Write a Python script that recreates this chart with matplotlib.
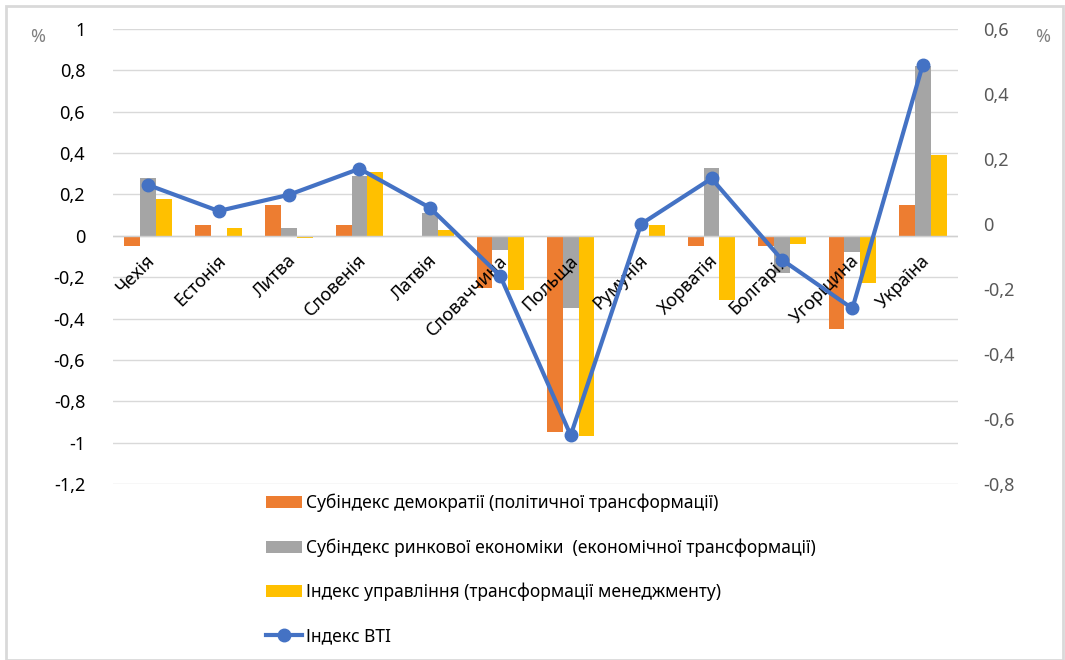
import matplotlib
matplotlib.use("Agg")
import matplotlib.pyplot as plt
import numpy as np
from matplotlib.patches import Rectangle

# країни та значення субіндексів (зміни, %)
countries = ["Чехія", "Естонія", "Литва", "Словенія", "Латвія", "Словаччина",
             "Польща", "Румунія", "Хорватія", "Болгарія", "Угорщина", "Україна"]
democracy = [-0.05, 0.05, 0.15, 0.05, 0.0, -0.25, -0.95, 0.0, -0.05, -0.05, -0.45, 0.15]
economy = [0.28, 0.0, 0.04, 0.29, 0.11, -0.07, -0.35, 0.0, 0.33, -0.18, -0.08, 0.82]
governance = [0.18, 0.04, -0.01, 0.31, 0.03, -0.26, -0.97, 0.05, -0.31, -0.04, -0.23, 0.39]
bti = [0.12, 0.04, 0.09, 0.17, 0.05, -0.16, -0.65, 0.0, 0.14, -0.11, -0.26, 0.49]

left_ticks = [1, 0.8, 0.6, 0.4, 0.2, 0, -0.2, -0.4, -0.6, -0.8, -1, -1.2]
right_ticks = [0.6, 0.4, 0.2, 0, -0.2, -0.4, -0.6, -0.8]

names = ["Субіндекс демократії (політичної трансформації)",
         "Субіндекс ринкової економіки  (економічної трансформації)",
         "Індекс управління (трансформації менеджменту)",
         "Індекс BTI"]

plt.rcParams['font.family'] = ['Noto Sans', 'DejaVu Sans']

fig = plt.figure(figsize=(10.65, 6.6), dpi=100)
ax = fig.add_axes([113 / 1065, 1 - 484 / 660, 845 / 1065, 455 / 660])
ax2 = ax.twinx()

x = np.arange(len(countries))
w = 0.225
b1 = ax.bar(x - w, democracy, w, color="#ED7D31", label=names[0])
b2 = ax.bar(x, economy, w, color="#A5A5A5", label=names[1])
b3 = ax.bar(x + w, governance, w, color="#FFC000", label=names[2])
ln, = ax2.plot(x, bti, color="#4472C4", lw=3, marker="o", ms=9, label=names[3])

ax.set_xlim(-0.5, len(countries) - 0.5)
ax.set_ylim(-1.2, 1)
ax2.set_ylim(-0.8, 0.6)
ax.set_yticks(left_ticks)
ax.set_yticklabels([str(t).replace(".", ",") if t != 0 else "0" for t in left_ticks],
                   fontsize=13, color="#000000")
ax2.set_yticks(right_ticks)
ax2.set_yticklabels([str(t).replace(".", ",") if t != 0 else "0" for t in right_ticks],
                    fontsize=13, color="#595959")
ax.grid(axis="y", color="#d9d9d9", lw=1)
ax.set_axisbelow(True)
ax.axhline(0, color="#d0d0d0", lw=1, zorder=1)
for a in (ax, ax2):
    for s in a.spines.values():
        s.set_visible(False)
    a.tick_params(length=0)
ax.tick_params(axis="y", pad=20)
ax2.tick_params(axis="y", pad=18)
ax.set_xticks([])

for i, c in enumerate(countries):
    ax.text(i - 0.03, -0.075, c, rotation=45, ha="right", va="top",
            rotation_mode="anchor", fontsize=13, color="#000000")

fig.text(38 / 1065, 1 - 37 / 660, "%", fontsize=13, color="#808080", ha="center", va="center")
fig.text(1043 / 1065, 1 - 37 / 660, "%", fontsize=13, color="#808080", ha="center", va="center")

fig.legend(handles=[b1, b2, b3, ln], loc="upper left", bbox_to_anchor=(250 / 1065, 1 - 478 / 660),
           frameon=False, fontsize=12.5, labelspacing=1.5, handlelength=2.1, handleheight=0.7,
           handletextpad=0.25)

fig.patches.append(Rectangle((6 / 1065, 0), 1057 / 1065, 1 - 6 / 660, transform=fig.transFigure,
                             fill=False, edgecolor="#d9d9d9", lw=2))

fig.savefig("out.png", dpi=100)
